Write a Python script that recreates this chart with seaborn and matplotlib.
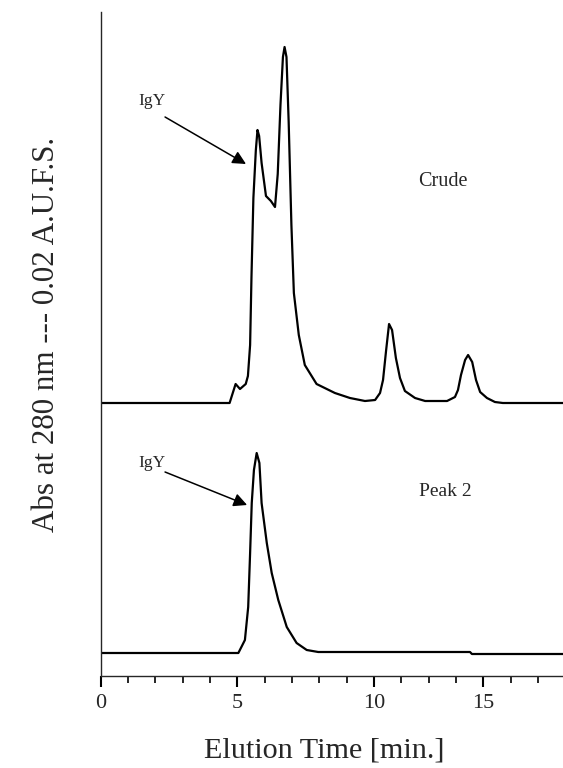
import matplotlib
matplotlib.use("Agg")
import matplotlib.pyplot as plt
import numpy as np
import pandas as pd
import seaborn as sns

sns.set_style("ticks")
plt.rcParams['font.family'] = ['Liberation Serif', 'DejaVu Serif']

# chromatogram traces (x in axis units, y in detector units)
crude_x = [0.00, 4.72, 4.94, 5.10, 5.31, 5.39, 5.47, 5.52, 5.59, 5.68, 5.74, 5.80,
           5.89, 6.05, 6.23, 6.38, 6.48, 6.58, 6.67, 6.73, 6.80, 6.88, 6.98, 7.07,
           7.25, 7.47, 7.90, 8.57, 9.12, 9.67, 10.04, 10.22, 10.33, 10.44, 10.55,
           10.66, 10.80, 10.95, 11.13, 11.50, 11.87, 12.67, 12.96, 13.07, 13.18,
           13.33, 13.44, 13.59, 13.73, 13.88, 14.13, 14.42, 14.71, 16.91]
crude_y = [273, 273, 292, 287, 292, 300, 331, 399, 478, 526, 546, 540,
           513, 480, 475, 469, 502, 571, 619, 629, 619, 554, 451, 383,
           341, 311, 292, 283, 278, 275, 276, 283, 296, 325, 352,
           346, 318, 298, 285, 278, 275, 275, 279, 286, 301,
           316, 321, 314, 296, 284, 278, 274, 273, 273]

peak2_x = [0.00, 5.04, 5.17, 5.28, 5.40, 5.47, 5.53, 5.61, 5.71, 5.81, 5.89, 6.08,
           6.26, 6.50, 6.81, 7.17, 7.54, 7.96, 13.51, 13.58, 16.91]
peak2_y = [23, 23, 30, 36, 69, 123, 173, 206, 223, 213, 173, 133,
           103, 76, 49, 33, 26, 24, 24, 22, 22]

major_ticks = [0, 5, 10, 14]
major_labels = ['0', '5', '10', '15']

df_crude = pd.DataFrame({'x': crude_x, 'y': crude_y})
df_peak2 = pd.DataFrame({'x': peak2_x, 'y': peak2_y})

fig = plt.figure(figsize=(5.63, 7.68), dpi=100)
ax = fig.add_axes([100.5 / 563, 92 / 768, 1 - 100.5 / 563, 664 / 768])

sns.lineplot(data=df_crude, x='x', y='y', ax=ax, color='black', lw=1.6, sort=False, estimator=None)
sns.lineplot(data=df_peak2, x='x', y='y', ax=ax, color='black', lw=1.6, sort=False, estimator=None)

ax.set_xlim(0, 16.91)
ax.set_ylim(0, 664)

# annotations
arrow = dict(arrowstyle='-|>', mutation_scale=20, lw=1.1, color='black', shrinkA=0, shrinkB=0)
ax.annotate('', xy=(5.32, 512), xytext=(2.36, 559), arrowprops=arrow)
ax.annotate('', xy=(5.36, 171), xytext=(2.36, 204), arrowprops=arrow)
ax.text(1.88, 575, 'IgY', fontsize=12.5, ha='center', va='center')
ax.text(1.88, 213, 'IgY', fontsize=12.5, ha='center', va='center')
ax.text(12.52, 494, 'Crude', fontsize=14.5, ha='center', va='center')
ax.text(12.6, 184, 'Peak 2', fontsize=14, ha='center', va='center')

# axes styling
sns.despine(ax=ax, top=True, right=True)
for s in ['left', 'bottom']:
    ax.spines[s].set_linewidth(1.0)
ax.set_yticks([])
ax.set_xticks(major_ticks)
ax.set_xticklabels(major_labels)
ax.set_xticks([t for t in range(1, 17) if t not in major_ticks], minor=True)
ax.tick_params(axis='x', which='major', length=8, width=1.5, labelsize=16, pad=5, color='black')
ax.tick_params(axis='x', which='minor', length=5, width=1.2, color='black')

ax.set_xlabel('Elution Time [min.]', fontsize=21.7)
ax.set_ylabel('Abs at 280 nm --- 0.02 A.U.F.S.', fontsize=22.3)
ax.xaxis.set_label_coords(0.483, -0.092)
ax.yaxis.set_label_coords(-0.085, 0.514)

fig.savefig('out.png', dpi=100)
